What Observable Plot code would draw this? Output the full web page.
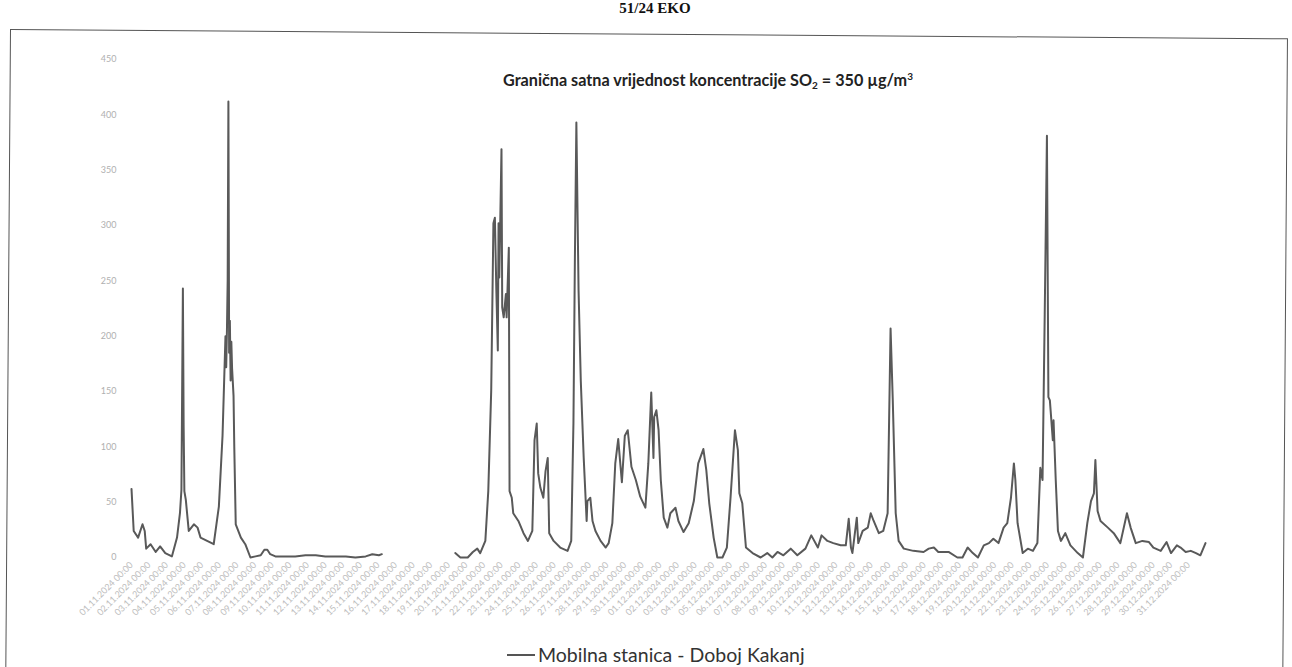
<!DOCTYPE html>
<html><head><meta charset="utf-8">
<script src="https://cdn.jsdelivr.net/npm/d3@7"></script>
<script src="https://cdn.jsdelivr.net/npm/@observablehq/plot@0.6"></script>
<style>
html,body{margin:0;padding:0;background:#fff;}
#page{position:relative;width:1292px;height:667px;overflow:hidden;background:#fff;}
#frame{position:absolute;left:10px;top:29px;width:1276px;height:700px;border:1.5px solid #555;transform-origin:0 0;transform:rotate(0.42deg);}
#title{position:absolute;top:1px;left:0;width:1310px;text-align:center;font:bold 15px/15px "Liberation Serif";color:#111;}
#chart{position:absolute;left:0;top:0;}
#note{position:absolute;left:503px;top:70px;font:bold 16.2px Lato;color:#222;white-space:nowrap;}
#note sub{font-size:10px;vertical-align:-3px;}
#note sup{font-size:10px;vertical-align:6px;}
#legend{position:absolute;left:507px;top:643px;font:19.5px Lato;color:#333;display:flex;align-items:center;white-space:nowrap;}
#legend .sw{width:28px;height:2px;background:#555;margin-right:3px;}
</style>
</head>
<body>
<div id="page">
  <div id="title">51/24 EKO</div>
  <div id="frame"></div>
  <div id="chart"></div>
  <div id="note">Granična satna vrijednost koncentracije SO<sub>2</sub> = 350 µg/m<sup>3</sup></div>
  <div id="legend"><span class="sw"></span><span id="legendText"></span></div>
</div>
<script>
// Series name
const seriesName = "Mobilna stanica - Doboj Kakanj";

// Hour offsets from 01.11.2024 00:00 and SO2 concentrations (µg/m³); null = missing data
const hours = [
  0,3,9,15,18,20,26,33,39,46,
  55,62,66,68,70,71,72,74,78,85,
  90,94,103,112,119,124,126,128,129,130,
  131,132,133,134,135,136,137,139,140,142,
  149,155,162,169,176,181,185,189,196,210,
  223,237,251,264,278,292,305,319,328,337,
  341,
  390,
  441,448,458,465,471,475,482,486,490,493,
  495,497,499,500,501,504,505,507,510,511,
  514,515,518,520,527,534,540,546,549,552,
  554,557,561,564,567,569,575,584,594,599,
  602,604,606,609,612,616,620,621,625,628,
  632,639,646,650,655,659,663,668,672,676,
  681,687,693,700,704,708,711,712,715,718,
  721,725,730,734,741,745,752,759,766,772,
  779,783,787,793,798,805,811,816,822,826,
  828,832,837,846,857,866,873,880,888,898,
  907,918,926,935,940,948,956,966,973,977,
  980,982,988,990,996,1003,1007,1011,1018,1024,
  1030,1034,1037,1041,1045,1052,1065,1079,1086,1093,
  1099,1113,1125,1132,1139,1146,1153,1161,1168,1174,
  1181,1188,1193,1198,1202,1204,1207,1214,1221,1228,
  1234,1238,1241,1244,1247,1249,1251,1255,1256,1259,
  1262,1266,1272,1279,1289,1296,1302,1307,1311,1313,
  1316,1320,1330,1338,1347,1356,1361,1368,1377,1386,
  1392,1402,1410,1416,1424,1429,1436,1443,1450,1456,
  1463
];
const so2 = [
  62,24,18,30,24,8,12,5,10,4,
  1,18,40,61,243,120,60,52,24,30,
  27,18,15,12,46,110,155,200,172,205,
  250,412,185,214,160,195,171,146,100,30,
  18,12,0,1,2,7,7,3,1,1,
  1,2,2,1,1,1,0,1,3,2,
  3,
  null,
  4,0,0,5,8,4,15,60,151,302,
  307,241,187,302,253,369,226,217,238,217,
  280,60,54,40,33,22,15,24,106,121,
  76,63,54,78,90,22,15,9,6,15,
  121,271,393,241,160,90,33,51,54,33,
  24,15,9,13,31,85,107,68,110,115,
  82,70,55,45,85,149,90,127,133,115,
  70,36,27,40,45,33,23,31,51,85,
  98,79,49,18,0,0,9,54,115,97,
  58,49,9,4,0,4,0,5,2,8,
  2,8,20,9,20,15,13,11,11,35,
  9,4,36,13,24,27,40,33,22,24,
  40,207,142,40,15,8,6,5,8,9,
  5,5,0,0,9,4,0,11,13,17,
  13,27,31,54,85,70,31,4,8,6,
  13,81,70,220,381,145,142,106,124,70,
  24,15,22,11,4,0,31,51,58,88,
  42,33,27,22,13,40,27,13,15,14,
  9,6,14,4,11,9,5,6,4,2,
  13
];

// Y-axis tick values
const yTicks = [0,50,100,150,200,250,300,350,400,450];

// X-axis tick labels (one per day)
const xTickLabels = [
  "01.11.2024 00:00","02.11.2024 00:00","03.11.2024 00:00","04.11.2024 00:00","05.11.2024 00:00",
  "06.11.2024 00:00","07.11.2024 00:00","08.11.2024 00:00","09.11.2024 00:00","10.11.2024 00:00",
  "11.11.2024 00:00","12.11.2024 00:00","13.11.2024 00:00","14.11.2024 00:00","15.11.2024 00:00",
  "16.11.2024 00:00","17.11.2024 00:00","18.11.2024 00:00","19.11.2024 00:00","20.11.2024 00:00",
  "21.11.2024 00:00","22.11.2024 00:00","23.11.2024 00:00","24.11.2024 00:00","25.11.2024 00:00",
  "26.11.2024 00:00","27.11.2024 00:00","28.11.2024 00:00","29.11.2024 00:00","30.11.2024 00:00",
  "01.12.2024 00:00","02.12.2024 00:00","03.12.2024 00:00","04.12.2024 00:00","05.12.2024 00:00",
  "06.12.2024 00:00","07.12.2024 00:00","08.12.2024 00:00","09.12.2024 00:00","10.12.2024 00:00",
  "11.12.2024 00:00","12.12.2024 00:00","13.12.2024 00:00","14.12.2024 00:00","15.12.2024 00:00",
  "16.12.2024 00:00","17.12.2024 00:00","18.12.2024 00:00","19.12.2024 00:00","20.12.2024 00:00",
  "21.12.2024 00:00","22.12.2024 00:00","23.12.2024 00:00","24.12.2024 00:00","25.12.2024 00:00",
  "26.12.2024 00:00","27.12.2024 00:00","28.12.2024 00:00","29.12.2024 00:00","30.12.2024 00:00",
  "31.12.2024 00:00"
];

const parseLabel = s => {
  const m = s.match(/(\d+)\.(\d+)\.(\d+) (\d+):(\d+)/);
  return new Date(Date.UTC(+m[3], +m[2]-1, +m[1], +m[4], +m[5]));
};
const t0 = parseLabel(xTickLabels[0]);
const HOUR = 3600e3;
const data = hours.map((h, i) => ({t: new Date(+t0 + h*HOUR), v: so2[i]}));
const tickDates = xTickLabels.map(parseLabel);
const labelMap = new Map(tickDates.map((d, i) => [+d, xTickLabels[i]]));

const chart = Plot.plot({
  width: 1292, height: 640,
  marginLeft: 131, marginRight: 87, marginTop: 59, marginBottom: 83,
  style: {fontFamily: "Lato", background: "transparent", overflow: "visible"},
  x: {type: "utc", domain: [t0, new Date(+t0 + hours[hours.length-1]*HOUR)]},
  y: {domain: [0, 450]},
  marks: [
    Plot.axisY({ticks: yTicks, tickSize: 0, tickPadding: 15, fontSize: 9, fill: "#b0b0b0", label: null}),
    Plot.axisX({ticks: tickDates, tickFormat: d => labelMap.get(+d), tickRotate: -45, tickSize: 0, tickPadding: 6, fontSize: 9, fill: "#bdbdbd", label: null}),
    Plot.line(data, {x: "t", y: "v", stroke: "#595959", strokeWidth: 2})
  ]
});
document.getElementById("chart").appendChild(chart);
document.getElementById("legendText").textContent = seriesName;
</script>
</body></html>
